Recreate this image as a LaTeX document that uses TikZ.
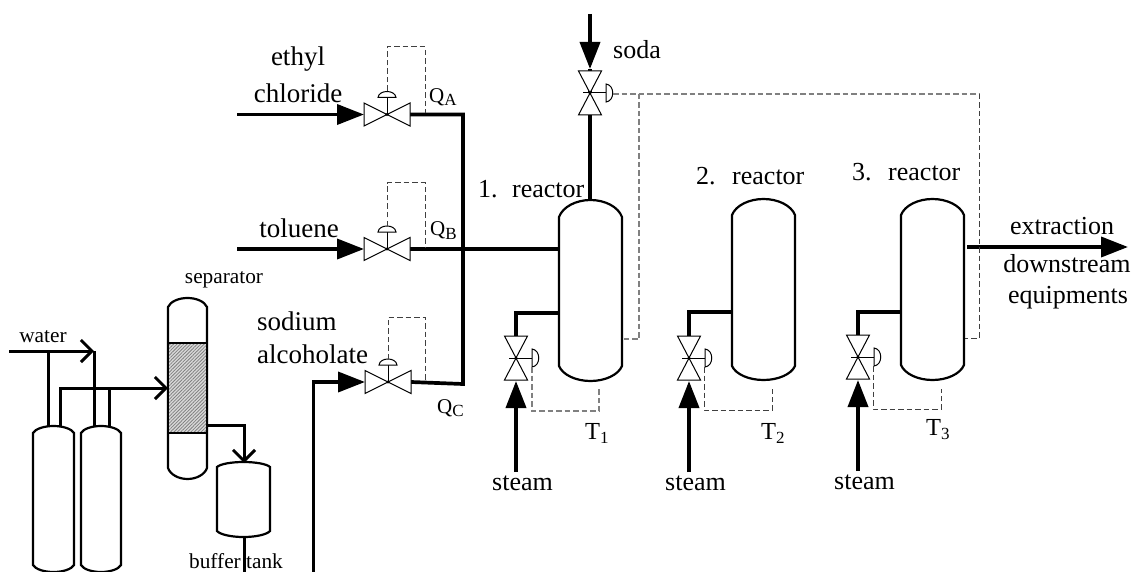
\documentclass[tikz,border=0pt]{standalone}
\usepackage{fontspec}
\setmainfont{Liberation Serif}
\usetikzlibrary{arrows.meta,patterns.meta}
\newcommand{\vesselpath}[6]{% x1,x2,ytop,yshoulder,ybotshoulder,ybot
  (#1,#4) .. controls ({#1+0.06*(#2-#1)},{#4-0.6*(#4-#3)}) and ({#1+0.27*(#2-#1)},#3) .. ({(#1+#2)/2},#3)
  .. controls ({#2-0.27*(#2-#1)},#3) and ({#2-0.06*(#2-#1)},{#4-0.6*(#4-#3)}) .. (#2,#4)
  -- (#2,#5) .. controls ({#2-0.06*(#2-#1)},{#5+0.6*(#6-#5)}) and ({#2-0.27*(#2-#1)},#6) .. ({(#1+#2)/2},#6)
  .. controls ({#1+0.27*(#2-#1)},#6) and ({#1+0.06*(#2-#1)},{#5+0.6*(#6-#5)}) .. (#1,#5) -- cycle}
\tikzset{
  pipe/.style={line width=3.7pt,line join=miter},
  feed/.style={pipe,-{Triangle[length=27pt,width=20pt]}},
  barbed/.style={line width=3pt,-{Straight Barb[length=11pt,width=22pt,line width=3pt]}},
  vessel/.style={draw=black,line width=2.2pt,fill=white},
  ctrl/.style={draw=black!75,line width=1pt,dash pattern=on 5.5pt off 3pt},
  ctrlgray/.style={draw=black!50,line width=1.2pt,dash pattern=on 5.5pt off 3pt},
  big/.style={font=\fontsize{27}{27}\selectfont,inner sep=0pt},
  mid/.style={font=\fontsize{26}{26}\selectfont,inner sep=0pt},
  small/.style={font=\fontsize{21.3}{21.3}\selectfont,inner sep=0pt},
  flow/.style={font=\fontsize{21}{21}\selectfont,inner sep=0pt,anchor=base west},
  temp/.style={font=\fontsize{24.5}{24.5}\selectfont,inner sep=0pt,anchor=base west},
  hvalve/.pic={
    \draw[line width=1pt,fill=white] (-23,-11.5) -- (0,0) -- (-23,11.5) -- cycle;
    \draw[line width=1pt,fill=white] (23,-11.5) -- (0,0) -- (23,11.5) -- cycle;
    \draw[line width=1pt] (0,0) -- (0,-17);
    \draw[line width=1pt,fill=white] (-9,-17) .. controls (-8,-25) and (8,-25) .. (9,-17) -- cycle;
    \fill (0,0) circle (1.6);
  },
  vvalve/.pic={
    \draw[line width=1pt,fill=white] (-11.5,-22) -- (0,0) -- (11.5,-22) -- cycle;
    \draw[line width=1pt,fill=white] (-11.5,22) -- (0,0) -- (11.5,22) -- cycle;
    \draw[line width=1pt] (-7,0) -- (16,0);
    \draw[line width=1pt,fill=white] (16,-9) .. controls (25,-8) and (25,8) .. (16,9) -- cycle;
    \fill (0,0) circle (1.6);
  },
}
\begin{document}
\begin{tikzpicture}[x=1pt,y=-1pt]
\useasboundingbox (0,0) rectangle (1132,572);
\fill[white] (0,0) rectangle (1132,572);
% named points
\coordinate (vA) at (387,114.5);
\coordinate (vB) at (387,249);
\coordinate (vC) at (388,382);
\coordinate (vS) at (590,93);
\coordinate (v1) at (516,358);
\coordinate (v2) at (689,358);
\coordinate (v3) at (858,357);
\coordinate (sA) at (237,114.5);
\coordinate (sB) at (237,249);
\coordinate (sC) at (313.5,572);
\coordinate (cornerC) at (313.5,382);
\coordinate (inA) at (364,114.5);
\coordinate (inB) at (364,249);
\coordinate (inC) at (365,382);
\coordinate (outA) at (409,114.5);
\coordinate (outB) at (409,249);
\coordinate (outC) at (411,382);
\coordinate (hdrA) at (463,114.5);
\coordinate (hdrC) at (463,384);
\coordinate (r1in) at (559,249);
\coordinate (r1top) at (590,200);
\coordinate (sS) at (590,14);
\coordinate (inS) at (590,69);
\coordinate (outS) at (590,115);
% vessels
\draw[vessel] \vesselpath{559}{622}{200}{217}{366}{381};
\draw[vessel] \vesselpath{732}{795}{199}{215}{366}{380};
\draw[vessel] \vesselpath{901}{964}{199}{215}{365}{380};
\draw[vessel] \vesselpath{33}{74}{426}{433}{565}{572};
\draw[vessel] \vesselpath{81}{121}{426}{433}{565}{572};
\draw[vessel] \vesselpath{168}{207}{298}{307}{468}{479};
\draw[vessel] \vesselpath{217}{270}{462}{467}{531}{537};
% packing of separator
\fill[black!15] (169,343) rectangle (206,433);
\fill[pattern={Lines[angle=45,distance=2.4pt,line width=.8pt]},pattern color=black!50] (169,343) rectangle (206,433);
\draw[line width=1.8pt] (168,343) -- (207,343) (168,433) -- (207,433);
% labels
\node[big,anchor=base] (tEthyl) at (298,66) {ethyl};
\node[big,anchor=base] (tChlor) at (298,103) {chloride};
\node[big,anchor=base] (tTol) at (299,237) {toluene};
\node[big,anchor=base west] (tSod) at (257,330) {sodium};
\node[big,anchor=base west] (tAlc) at (257,363) {alcoholate};
\node[small,anchor=base] (tWater) at (43,342) {water};
\node[small,anchor=base] (tSep) at (224,283) {separator};
\node[small,anchor=base] (tBuf) at (236,568) {buffer tank};
\node[mid,anchor=base west] (tSoda) at (613,59) {soda};
\node[mid,anchor=base west] (tR1n) at (478,197) {1.};
\node[mid,anchor=base west] (tR1) at (512,197) {reactor};
\node[mid,anchor=base west] (tR2n) at (696,185) {2.};
\node[mid,anchor=base west] (tR2) at (732,185) {reactor};
\node[mid,anchor=base west] (tR3n) at (852,181) {3.};
\node[mid,anchor=base west] (tR3) at (888,181) {reactor};
\node[flow] (tQA) at (429,103) {Q\raisebox{-3pt}{\fontsize{17}{17}\selectfont A}};
\node[flow] (tQB) at (430,236) {Q\raisebox{-3pt}{\fontsize{17}{17}\selectfont B}};
\node[flow] (tQC) at (437,413) {Q\raisebox{-3pt}{\fontsize{17}{17}\selectfont C}};
\node[temp] (tT1) at (585,439) {T\raisebox{-4pt}{\fontsize{17}{17}\selectfont 1}};
\node[temp] (tT2) at (761,439) {T\raisebox{-4pt}{\fontsize{17}{17}\selectfont 2}};
\node[temp] (tT3) at (926,435) {T\raisebox{-4pt}{\fontsize{17}{17}\selectfont 3}};
\node[mid,anchor=base west] (tSt1) at (492,490) {steam};
\node[mid,anchor=base west] (tSt2) at (665,490) {steam};
\node[mid,anchor=base west] (tSt3) at (834,489) {steam};
\node[mid,anchor=base] (tExt) at (1062,234) {extraction};
\node[mid,anchor=base] (tDown) at (1067,272) {downstream};
\node[mid,anchor=base] (tEq) at (1068,303) {equipments};
% pipes, feeds
\draw[feed] (sA) -- (inA);
\draw[feed] (sB) -- (inB);
\draw[feed] (sC) -- (cornerC) -- (inC);
\draw[feed] (sS) -- (inS);
\draw[pipe] (inS) -- (vS);
\draw[pipe] (outA) -- (hdrA) -- (hdrC) -- (outC);
\draw[pipe] (outB) -- (r1in);
\draw[pipe] (outS) -- (r1top);
% steam
\coordinate (st1) at (516,472); \coordinate (st2) at (689,472); \coordinate (st3) at (858,471);
\coordinate (st1in) at (516,381); \coordinate (st2in) at (689,381); \coordinate (st3in) at (858,380);
\coordinate (st1a) at (516,336); \coordinate (st2a) at (689,336); \coordinate (st3a) at (858,335);
\coordinate (st1b) at (516,313); \coordinate (st2b) at (689,312); \coordinate (st3b) at (858,312);
\coordinate (r1s) at (559,313); \coordinate (r2s) at (732,312); \coordinate (r3s) at (901,312);
\foreach \n in {1,2,3}{
  \draw[feed] (st\n) -- (st\n in);
  \draw[pipe] (st\n a) -- (st\n b) -- (r\n s);
}
% outlet
\coordinate (r3o) at (967,247); \coordinate (exit) at (1128,247);
\draw[feed] (r3o) -- (exit);
% separator train
\coordinate (w0) at (9,351); \coordinate (w1) at (48,351); \coordinate (w2) at (94,351);
\coordinate (w1b) at (48,427); \coordinate (w2b) at (94,427);
\coordinate (e0) at (60,427); \coordinate (e1) at (60,388); \coordinate (e2) at (109,388);
\coordinate (e3) at (168,388); \coordinate (e2b) at (109,427);
\coordinate (q0) at (207,425); \coordinate (q1) at (244,425); \coordinate (q2) at (244,463);
\coordinate (b0) at (244,537); \coordinate (b1) at (244,572);
\draw[barbed] (w0) -- (w2);
\draw[line width=3pt] (w1) -- (w1b);
\draw[line width=3pt] (w2) -- (w2b);
\draw[barbed] (e0) -- (e1) -- (e3);
\draw[line width=3pt] (e2) -- (e2b);
\draw[barbed] (q0) -- (q1) -- (q2);
\draw[line width=3pt] (b0) -- (b1);
% valves
\pic at (vA) {hvalve};
\pic at (vB) {hvalve};
\pic at (vC) {hvalve};
\pic at (vS) {vvalve};
\pic at (v1) {vvalve};
\pic at (v2) {vvalve};
\pic at (v3) {vvalve};
% control lines
\coordinate (a1) at (387,91); \coordinate (a2) at (387,47); \coordinate (a3) at (425,47); \coordinate (a4) at (425,113);
\draw[ctrl] (a1) -- (a2) -- (a3) -- (a4);
\coordinate (b1c) at (387,226); \coordinate (b2c) at (387,183); \coordinate (b3c) at (425,183); \coordinate (b4c) at (425,247);
\draw[ctrl] (b1c) -- (b2c) -- (b3c) -- (b4c);
\coordinate (c1) at (388,359); \coordinate (c2) at (388,317); \coordinate (c3) at (425,317); \coordinate (c4) at (425,380);
\draw[ctrl] (c1) -- (c2) -- (c3) -- (c4);
\coordinate (d0) at (613,94); \coordinate (d1) at (979,94); \coordinate (d2) at (979,338); \coordinate (d3) at (965,338);
\coordinate (d4) at (639,94); \coordinate (d5) at (639,339); \coordinate (d6) at (623,339);
\draw[ctrlgray] (d0) -- (d1);
\draw[ctrl] (d1) -- (d2) -- (d3);
\draw[ctrlgray] (d4) -- (d5) -- (d6);
\coordinate (f1) at (532,367); \coordinate (f2) at (532,411); \coordinate (f3) at (599,411); \coordinate (f4) at (599,389);
\draw[ctrlgray] (f1) -- (f2) -- (f3) -- (f4);
\coordinate (g1) at (704,367); \coordinate (g2) at (704,410); \coordinate (g3) at (772,410); \coordinate (g4) at (772,389);
\draw[ctrl] (g1) -- (g2) -- (g3) -- (g4);
\coordinate (h1) at (873,366); \coordinate (h2) at (873,409); \coordinate (h3) at (941,409); \coordinate (h4) at (941,389);
\draw[ctrl] (h1) -- (h2) -- (h3) -- (h4);
\end{tikzpicture}
\end{document}
